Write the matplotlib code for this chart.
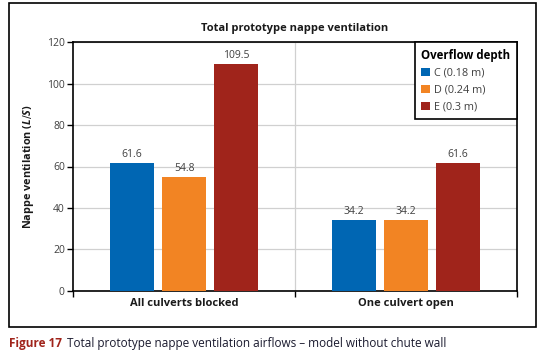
import matplotlib.pyplot as plt
from matplotlib.patches import Rectangle

# data
groups = ['All culverts blocked', 'One culvert open']
series = ['C (0.18 m)', 'D (0.24 m)', 'E (0.3 m)']
vals_C = [61.6, 34.2]
vals_D = [54.8, 34.2]
vals_E = [109.5, 61.6]
colors = ['#0066b3', '#f28423', '#a0241b']

plt.rcParams['font.family'] = ['Open Sans', 'DejaVu Sans']
plt.rcParams['mathtext.fontset'] = 'custom'
plt.rcParams['mathtext.it'] = 'Open Sans:italic:bold'

fig = plt.figure(figsize=(5.46, 3.6), dpi=100)
ax = fig.add_axes([0.134, 0.192, 0.813, 0.691])

# outer frame
fig.patches.append(Rectangle((0.0165, 0.092), 0.965, 0.9, transform=fig.transFigure,
                             fill=False, edgecolor='black', linewidth=1.2))

centers = [0.5, 1.5]
w = 0.198
off = 0.234
for i, (vals, lab) in enumerate(zip([vals_C, vals_D, vals_E], series)):
    xs = [c + (i - 1) * off for c in centers]
    bars = ax.bar(xs, vals, width=w, color=colors[i], label=lab, zorder=3)
    for b, v in zip(bars, vals):
        ax.text(b.get_x() + b.get_width() / 2, v + 1.5, f'{v:.1f}', ha='center', va='bottom',
                fontsize=7.5, color='#404040')

ax.set_xlim(0, 2)
ax.set_ylim(0, 120)
ax.set_yticks(range(0, 121, 20))
ax.grid(axis='y', color='#d0d0d0', linewidth=0.9, zorder=0)
ax.axvline(1, color='#d0d0d0', linewidth=0.9, zorder=0)
ax.set_xticks([0, 1, 2])
ax.set_xticklabels([])
ax.set_xticks(centers, minor=True)
ax.set_xticklabels(groups, minor=True, fontweight='bold', fontsize=8, color='#1a1a1a')
ax.tick_params(axis='x', which='minor', length=0, pad=5)
ax.tick_params(axis='x', which='major', length=4, width=1, direction='out')
ax.tick_params(axis='y', length=4, width=1, labelsize=7.5, labelcolor='#404040', pad=2)
for s in ax.spines.values():
    s.set_color('black')
    s.set_linewidth(1.2)

ax.set_ylabel(r'Nappe ventilation ($L/S$)', fontweight='bold', fontsize=7.8, color='#1a1a1a', labelpad=8)
ax.set_title('Total prototype nappe ventilation', fontweight='bold', fontsize=8, color='#1a1a1a', pad=8)

leg = ax.legend(loc='upper right', bbox_to_anchor=(1, 1), borderaxespad=0, fontsize=7.8,
                title='Overflow depth', title_fontproperties={'weight': 'bold', 'size': 8.3},
                fancybox=False, edgecolor='black', framealpha=1, handlelength=0.8, handleheight=0.8,
                handletextpad=0.4, labelspacing=0.55, borderpad=0.6)
leg.get_frame().set_linewidth(1.2)
leg._legend_box.align = 'left'
for t in leg.get_texts():
    t.set_color('#404040')

t1 = fig.text(0.017, 0.045, 'Figure 17', color='#a0241b', fontweight='bold', fontsize=8.5, va='center')
fig.canvas.draw()
bb = t1.get_window_extent().transformed(fig.transFigure.inverted())
fig.text(bb.x1 + 0.008, 0.045, 'Total prototype nappe ventilation airflows – model without chute wall',
         color='#1a1a2e', fontsize=8.5, va='center')

fig.savefig('out.png', dpi=100)
